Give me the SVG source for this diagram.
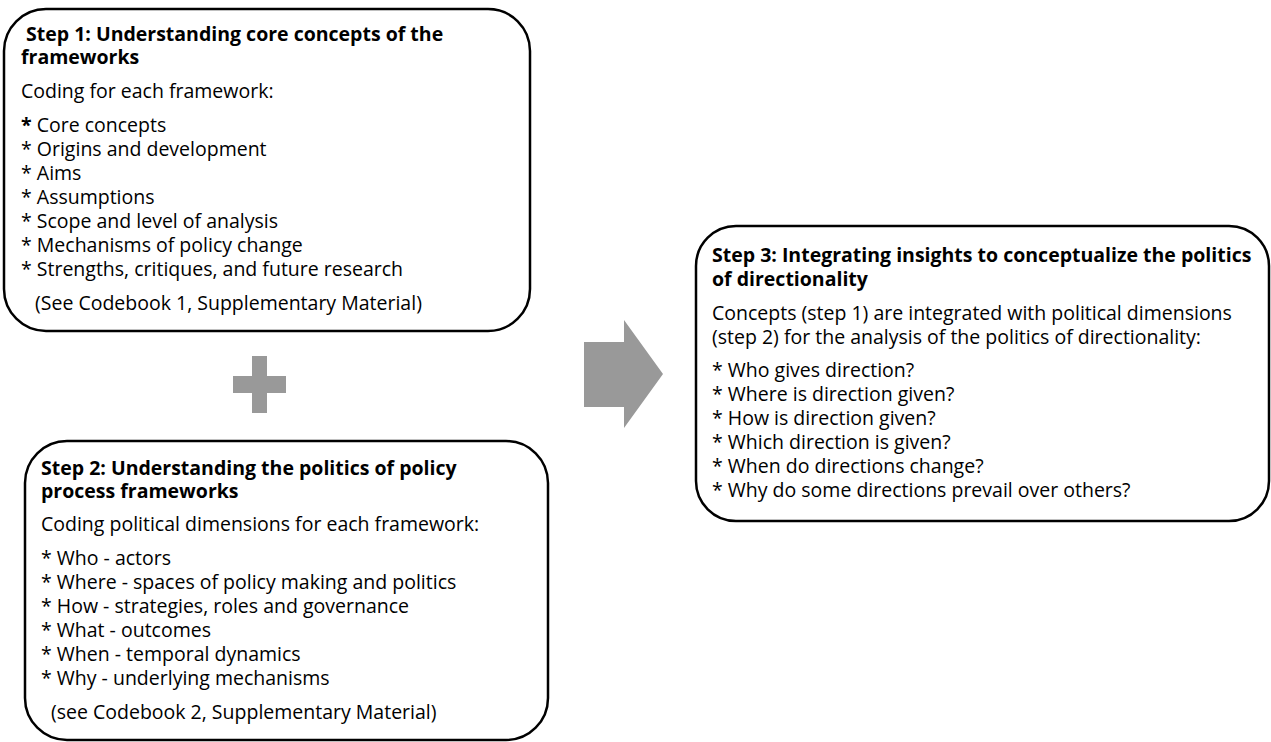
<svg xmlns="http://www.w3.org/2000/svg" width="1271" height="742" viewBox="0 0 1271 742">
  <style>
    .box { fill: #ffffff; stroke: #000000; stroke-width: 2.5; }
    .title { font-family: "Open Sans", "Noto Sans", sans-serif; font-size: 19.5px; font-weight: bold; fill: #000000; }
    .body { font-family: "Open Sans", "Noto Sans", sans-serif; font-size: 19.5px; fill: #000000; }
    .shape { fill: #999999; }
  </style>
  <rect width="1271" height="742" fill="#ffffff"/>

  <!-- Step 1 -->
  <g id="step1">
    <rect class="box" x="4" y="9" width="526" height="322" rx="42" ry="42"/>
    <text class="title" x="26" y="41">Step 1: Understanding core concepts of the</text>
    <text class="title" x="21" y="64">frameworks</text>
    <text class="body" x="21" y="98">Coding for each framework:</text>
    <text class="body" x="21" y="132"><tspan font-weight="bold">*</tspan> Core concepts</text>
    <text class="body" x="21" y="156">* Origins and development</text>
    <text class="body" x="21" y="180">* Aims</text>
    <text class="body" x="21" y="204">* Assumptions</text>
    <text class="body" x="21" y="228">* Scope and level of analysis</text>
    <text class="body" x="21" y="252">* Mechanisms of policy change</text>
    <text class="body" x="21" y="276">* Strengths, critiques, and future research</text>
    <text class="body" x="35" y="310">(See Codebook 1, Supplementary Material)</text>
  </g>

  <!-- Plus sign between step 1 and step 2 -->
  <g id="plus">
    <path class="shape" d="M252 356 H267 V376 H286 V393 H267 V413 H252 V393 H233 V376 H252 Z"/>
  </g>

  <!-- Step 2 -->
  <g id="step2">
    <rect class="box" x="25" y="441" width="523" height="299" rx="42" ry="42"/>
    <text class="title" x="41" y="475">Step 2: Understanding the politics of policy</text>
    <text class="title" x="41" y="498">process frameworks</text>
    <text class="body" x="41" y="531">Coding political dimensions for each framework:</text>
    <text class="body" x="41" y="565">* Who - actors</text>
    <text class="body" x="41" y="589">* Where - spaces of policy making and politics</text>
    <text class="body" x="41" y="613">* How - strategies, roles and governance</text>
    <text class="body" x="41" y="637">* What - outcomes</text>
    <text class="body" x="41" y="661">* When - temporal dynamics</text>
    <text class="body" x="41" y="685">* Why - underlying mechanisms</text>
    <text class="body" x="51" y="719">(see Codebook 2, Supplementary Material)</text>
  </g>

  <!-- Block arrow towards step 3 -->
  <g id="connectors">
    <path class="shape" d="M584 342 H624 V320 L663 374 L624 428 V407 H584 Z"/>
  </g>

  <!-- Step 3 -->
  <g id="step3">
    <rect class="box" x="696" y="226" width="573" height="295" rx="40" ry="40"/>
    <text class="title" x="712" y="262">Step 3: Integrating insights to conceptualize the politics</text>
    <text class="title" x="712" y="286">of directionality</text>
    <text class="body" x="712" y="320">Concepts (step 1) are integrated with political dimensions</text>
    <text class="body" x="712" y="344">(step 2) for the analysis of the politics of directionality:</text>
    <text class="body" x="712" y="377">* Who gives direction?</text>
    <text class="body" x="712" y="401">* Where is direction given?</text>
    <text class="body" x="712" y="425">* How is direction given?</text>
    <text class="body" x="712" y="449">* Which direction is given?</text>
    <text class="body" x="712" y="473">* When do directions change?</text>
    <text class="body" x="712" y="497">* Why do some directions prevail over others?</text>
  </g>
</svg>
